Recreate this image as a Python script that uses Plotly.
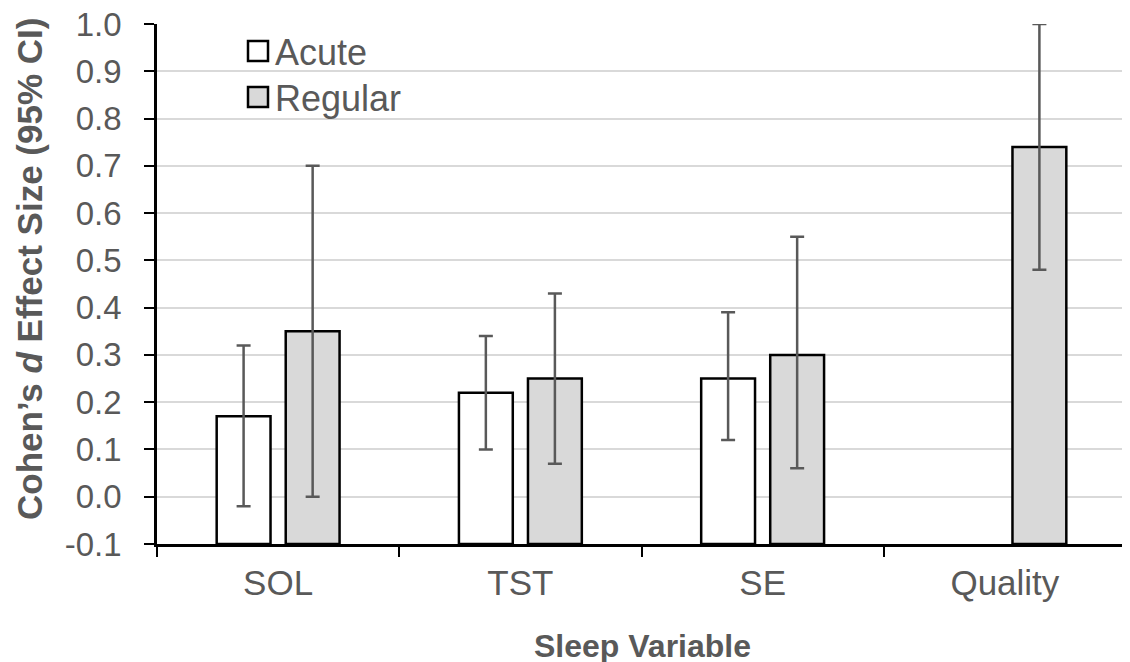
import plotly.graph_objects as go

categories = ["SOL", "TST", "SE", "Quality"]
acute = [0.17, 0.22, 0.25, None]
acute_lo = [-0.02, 0.10, 0.12, None]
acute_hi = [0.32, 0.34, 0.39, None]
regular = [0.35, 0.25, 0.30, 0.74]
regular_lo = [0.00, 0.07, 0.06, 0.48]
regular_hi = [0.70, 0.43, 0.55, 1.00]
y_ticks = [-0.1, 0.0, 0.1, 0.2, 0.3, 0.4, 0.5, 0.6, 0.7, 0.8, 0.9, 1.0]
base_val = -0.1
series_names = ["Acute", "Regular"]
series_fills = ["white", "#d9d9d9"]

GRAY = "#595959"
FONT = "Liberation Sans, Arial, sans-serif"

W, H = 1130, 662
OFF = 8  # page body margin shifts the figure by 8px
ML, MT = 157 - OFF, 24 - OFF
MR = W - (1126 - OFF)
MB = H - (544 - OFF)
PW, PH = W - ML - MR, H - MT - MB


def bar_trace(name, vals, lo, hi, fill):
    y = [None if v is None else v - base_val for v in vals]
    plus = [None if v is None else h - v for v, h in zip(vals, hi)]
    minus = [None if v is None else v - l for v, l in zip(vals, lo)]
    return go.Bar(
        name=name, x=categories, y=y, base=base_val, showlegend=False,
        marker=dict(color=fill, line=dict(color="black", width=2.5)),
        error_y=dict(type="data", symmetric=False, array=plus, arrayminus=minus,
                     color=GRAY, thickness=2.5, width=7),
    )


fig = go.Figure()
fig.add_trace(bar_trace("Acute", acute, acute_lo, acute_hi, series_fills[0]))
fig.add_trace(bar_trace("Regular", regular, regular_lo, regular_hi, series_fills[1]))


# positions in screen px -> paper coords
def px_x(p):
    return (p - OFF - ML) / PW


def px_y(p):
    return (H - MB - (p - OFF)) / PH


# manual legend (larger swatches like the original)
for i, (nm, fill) in enumerate(zip(series_names, series_fills)):
    top = 41 + i * 46
    fig.add_shape(type="rect", xref="paper", yref="paper",
                  x0=px_x(248), x1=px_x(268), y0=px_y(top + 20), y1=px_y(top),
                  fillcolor=fill, line=dict(color="black", width=2.5))
    fig.add_annotation(xref="paper", yref="paper", x=px_x(273), y=px_y(top + 11),
                       xanchor="left", yanchor="middle", text=nm, showarrow=False,
                       font=dict(size=36, color=GRAY, family=FONT))

# axis titles as annotations
fig.add_annotation(xref="paper", yref="paper", x=px_x(29), y=px_y(269),
                   xanchor="center", yanchor="middle", textangle=-90, showarrow=False,
                   text="<b>Cohen’s <i>d</i> Effect Size (95% CI)</b>",
                   font=dict(size=35, color=GRAY, family=FONT))
fig.add_annotation(xref="paper", yref="paper", x=px_x(642), y=px_y(646),
                   xanchor="center", yanchor="middle", showarrow=False,
                   text="<b>Sleep Variable</b>",
                   font=dict(size=32, color=GRAY, family=FONT))

fig.update_layout(
    width=W, height=H,
    margin=dict(l=ML, r=MR, t=MT, b=MB),
    paper_bgcolor="white", plot_bgcolor="white",
    barmode="group", bargap=0.43, bargroupgap=0.22,
    font=dict(family=FONT, color=GRAY, size=32),
    showlegend=False,
)
fig.update_xaxes(
    automargin=False,
    showline=True, linecolor="black", linewidth=2.5,
    ticks="outside", tickson="boundaries", ticklen=10, tickwidth=2, tickcolor="black",
    tickfont=dict(size=35, color=GRAY), ticklabelstandoff=6,
)
fig.update_yaxes(
    automargin=False,
    range=[-0.1, 1.0], tickvals=y_ticks, ticktext=[f"{v:.1f}" for v in y_ticks],
    ticklabeloverflow="allow",
    showgrid=True, gridcolor="#d9d9d9", gridwidth=2, zeroline=False,
    showline=True, linecolor="black", linewidth=2.5,
    ticks="outside", ticklen=10, tickwidth=2, tickcolor="black",
    tickfont=dict(size=33, color=GRAY), ticklabelstandoff=16,
)

fig.write_html("out.html")
